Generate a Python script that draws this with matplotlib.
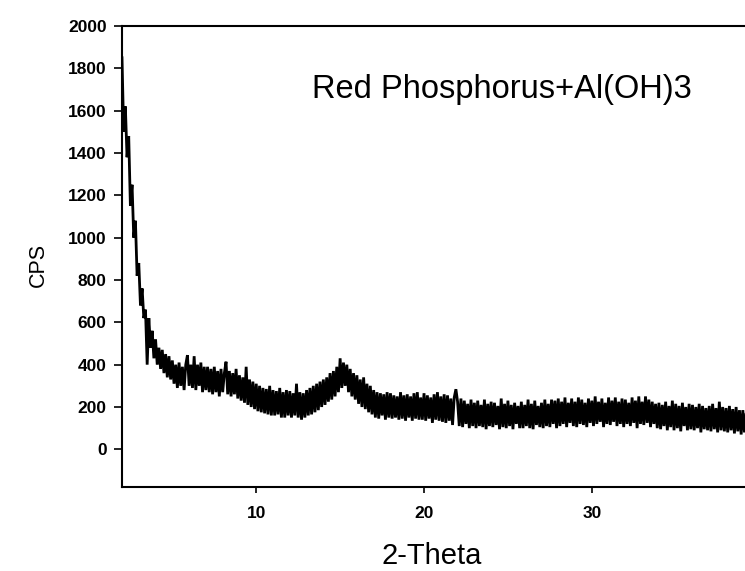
import numpy as np
import matplotlib
matplotlib.use('Agg')
import matplotlib.pyplot as plt

plt.rcParams['font.family'] = ['Liberation Sans', 'DejaVu Sans']

# 2-theta sampling, 0.1 deg steps from 2.0 to 39.2
theta = np.round(np.arange(2.0, 39.25, 0.1), 1)

# counts (one row = one degree), hi/lo of the noisy band
cps = [
    1850, 1500, 1620, 1380, 1480, 1150, 1250, 1000, 1080, 820,
    880, 680, 760, 620, 660, 400, 620, 480, 560, 430,
    520, 400, 480, 380, 470, 360, 450, 340, 440, 330,
    420, 310, 400, 290, 410, 300, 390, 280, 400, 445,
    300, 400, 290, 440, 280, 400, 300, 410, 270, 390,
    280, 390, 270, 380, 260, 390, 270, 370, 250, 380,
    270, 360, 414, 260, 370, 250, 360, 260, 380, 240,
    350, 230, 340, 220, 390, 210, 330, 200, 320, 190,
    310, 180, 300, 175, 290, 170, 285, 165, 300, 160,
    280, 160, 275, 165, 290, 150, 270, 150, 280, 160,
    275, 150, 265, 160, 310, 150, 270, 140, 265, 150,
    280, 160, 290, 165, 300, 175, 310, 185, 320, 200,
    330, 210, 340, 225, 360, 235, 370, 250, 390, 270,
    430, 290, 410, 300, 400, 270, 380, 250, 360, 235,
    350, 215, 330, 200, 340, 190, 310, 175, 300, 165,
    280, 150, 270, 145, 265, 160, 260, 140, 270, 150,
    265, 145, 255, 150, 250, 140, 270, 145, 255, 135,
    260, 150, 250, 135, 265, 145, 270, 140, 245, 140,
    265, 135, 255, 145, 245, 125, 260, 140, 270, 135,
    250, 130, 260, 125, 255, 135, 240, 115, 245, 284,
    225, 110, 240, 105, 230, 120, 215, 100, 235, 110,
    220, 100, 230, 110, 210, 105, 235, 95, 215, 110,
    225, 105, 220, 115, 205, 95, 240, 105, 215, 100,
    230, 110, 210, 95, 220, 120, 205, 100, 225, 100,
    210, 110, 235, 100, 215, 95, 230, 115, 205, 105,
    220, 100, 235, 110, 215, 105, 235, 120, 230, 100,
    240, 110, 225, 120, 245, 105, 220, 125, 240, 110,
    225, 105, 245, 120, 235, 115, 220, 105, 240, 125,
    230, 110, 250, 120, 225, 130, 240, 105, 220, 120,
    245, 115, 230, 130, 245, 110, 225, 120, 240, 105,
    235, 120, 220, 110, 245, 125, 230, 100, 250, 120,
    225, 115, 250, 125, 235, 105, 225, 120, 215, 100,
    220, 95, 210, 110, 225, 90, 205, 105, 230, 90,
    215, 100, 205, 85, 220, 110, 200, 90, 215, 95,
    210, 90, 200, 100, 215, 80, 205, 95, 195, 90,
    205, 85, 215, 95, 195, 80, 225, 90, 200, 85,
    195, 80, 205, 90, 190, 75, 200, 85, 185, 70,
    185, 80, 175,
]

xticks = [10, 20, 30]
yticks = list(range(0, 2001, 200))

fig = plt.figure(figsize=(7.45, 5.71), dpi=100)
# right spine falls just off the canvas, like the cropped scan
ax = fig.add_axes([122/745., 84/571., 637.6/745., 461/571.])
ax.plot(theta[:len(cps)], cps, color='k', lw=2.0, solid_joinstyle='miter')

ax.set_xlim(2, 40)
ax.set_ylim(-178, 2000)
ax.set_xticks(xticks)
ax.set_yticks(yticks)
ax.tick_params(axis='y', direction='out', length=6, width=1.2, pad=5, labelsize=12.5)
ax.tick_params(axis='x', direction='out', length=4, width=1.2, pad=10, labelsize=12.5)
for lab in ax.get_xticklabels() + ax.get_yticklabels():
    lab.set_fontweight('bold')
for s in ax.spines.values():
    s.set_linewidth(1.5)

fig.text(312/745., 1 - 98/571., 'Red Phosphorus+Al(OH)3', fontsize=23.5, va='baseline', ha='left')
fig.text(432/745., 7/571., '2-Theta', fontsize=21, va='baseline', ha='center')
fig.text(38/745., 1 - 265/571., 'CPS', fontsize=15.5, rotation=90, va='center', ha='center')

fig.savefig('out.png', dpi=100)
